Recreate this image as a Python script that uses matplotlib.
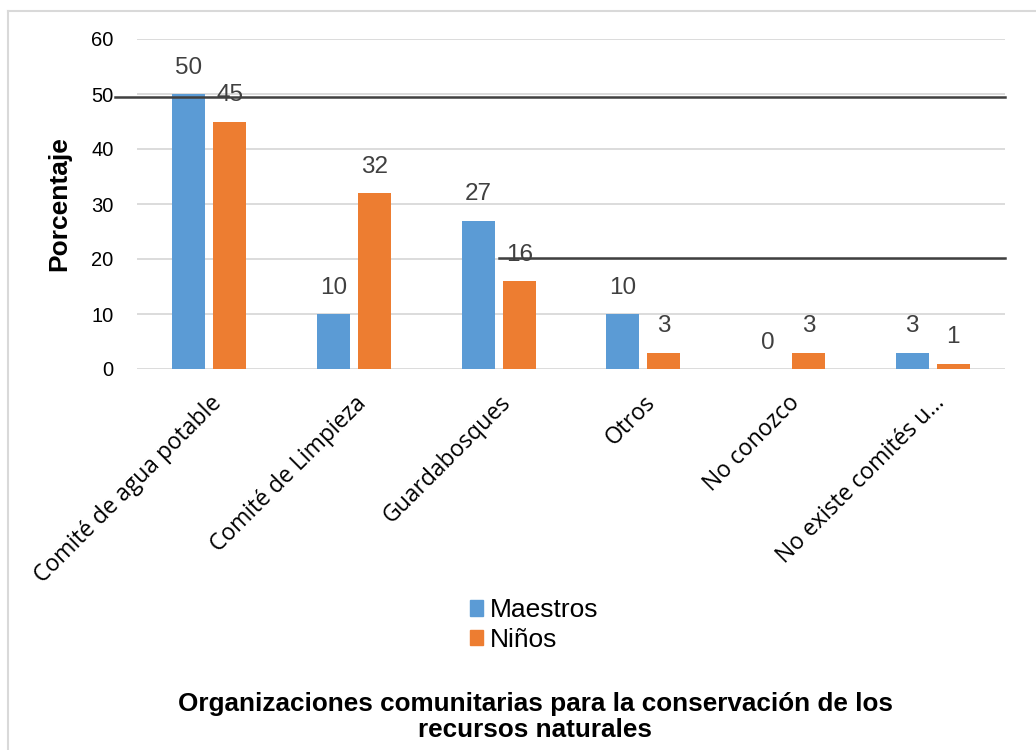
import matplotlib
matplotlib.use('Agg')
from matplotlib import pyplot as plt
from matplotlib.lines import Line2D
import matplotlib.patches as mpatches
import numpy as np

categorias = ['Comité de agua potable', 'Comité de Limpieza', 'Guardabosques',
              'Otros', 'No conozco', 'No existe comités u...']
maestros = [50, 10, 27, 10, 0, 3]
ninos = [45, 32, 16, 3, 3, 1]
y_ticks = [0, 10, 20, 30, 40, 50, 60]

azul = '#5B9BD5'
naranja = '#ED7D31'
gris = '#404040'

plt.rcParams['font.family'] = ['Liberation Sans', 'DejaVu Sans']

fig = plt.figure(figsize=(10.36, 7.5), dpi=100)
ax = fig.add_axes([137/1036, 1-369/750, 868/1036, 330/750])

x = np.arange(len(categorias))
w = 0.228
off = 0.142
b1 = ax.bar(x - off, maestros, w, color=azul, zorder=3)
b2 = ax.bar(x + off, ninos, w, color=naranja, zorder=3)

# etiquetas de datos
for xs, vals in [(x - off, maestros), (x + off, ninos)]:
    for xi, v in zip(xs, vals):
        ax.annotate(str(v), (xi, v), xytext=(0, 19), textcoords='offset points',
                    ha='center', va='center', fontsize=17.5, color=gris, zorder=5)

ax.set_xlim(-0.5, len(categorias) - 0.5)
ax.set_ylim(0, 60)
ax.set_yticks(y_ticks)
ax.yaxis.grid(True, color='#D9D9D9', linewidth=1.3, zorder=0)
ax.set_axisbelow(True)
for s in ax.spines.values():
    s.set_visible(False)
ax.tick_params(axis='y', length=0, pad=17, labelsize=14.5)
ax.tick_params(axis='x', length=0, pad=16)
ax.set_xticks(x)
ax.set_xticklabels(categorias, rotation=45, ha='right', rotation_mode='anchor',
                   family='Open Sans', fontsize=16.5)
ax.set_ylabel('Porcentaje', fontsize=19, fontweight='bold', labelpad=14)

# lineas oscuras dibujadas encima
ax.axhline(49.4, xmin=(115-137)/868, xmax=1.0, color=gris, linewidth=1.8,
           clip_on=False, zorder=6)
ax.axhline(20.2, xmin=(499-137)/868, xmax=1.0, color=gris, linewidth=1.8,
           clip_on=False, zorder=6)

# borde del grafico
fig.add_artist(Line2D([8/1036, 1], [1-10.5/750, 1-10.5/750], color='#D9D9D9', linewidth=1.5))
fig.add_artist(Line2D([8/1036, 8/1036], [0, 1-10.5/750], color='#D9D9D9', linewidth=1.5))

h1 = mpatches.Patch(color=azul, label='Maestros')
h2 = mpatches.Patch(color=naranja, label='Niños')
fig.legend(handles=[h1, h2], loc='center', bbox_to_anchor=(534/1036, 1-625/750),
           frameon=False, fontsize=19, handlelength=0.5, handleheight=0.5,
           handletextpad=0.25, labelspacing=0.2, borderpad=0)

fig.text(535/1036, 1-717/750,
         'Organizaciones comunitarias para la conservación de los\nrecursos naturales',
         ha='center', va='center', fontsize=18.8, fontweight='bold', linespacing=1.12)

fig.savefig('out.png', dpi=100)
